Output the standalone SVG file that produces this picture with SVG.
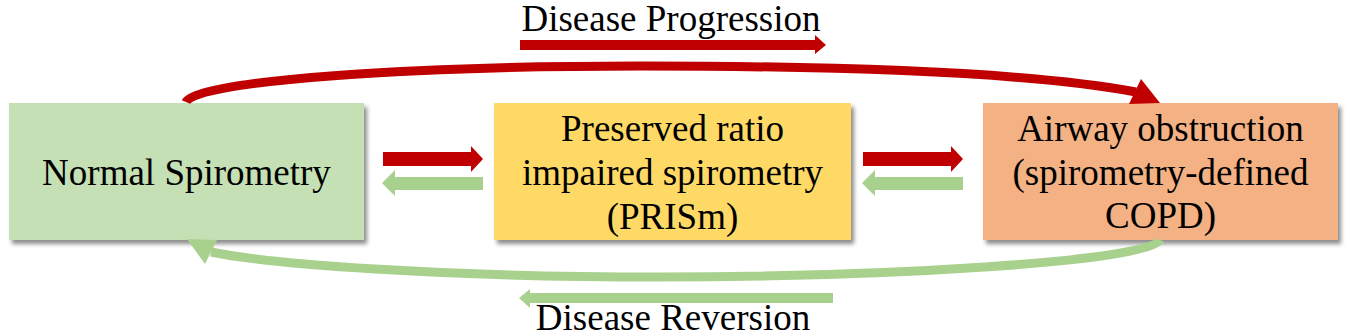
<svg xmlns="http://www.w3.org/2000/svg" width="1345" height="336" viewBox="0 0 1345 336">
<style>
.t{font-size:37px;fill:#000;text-anchor:middle}
.red{fill:#C00000}
.grn{fill:#A9D18E}
.cr{fill:none;stroke:#C00000;stroke-width:9}
.cg{fill:none;stroke:#A9D18E;stroke-width:9}
</style>
<defs>
<filter id="sh" x="-5%" y="-5%" width="115%" height="120%">
<feDropShadow dx="3" dy="4" stdDeviation="2" flood-color="#000" flood-opacity="0.45"/>
</filter>
</defs>
<g font-family="Liberation Serif, Times New Roman, DejaVu Serif, serif">
<g id="title-progression">
<text class="t" x="671" y="31" font-size="34.5">Disease Progression</text>
<polygon class="red" points="520,40 815,40 815,35 826,45 815,54 815,50 520,50"/>
</g>
<g id="title-reversion">
<text class="t" x="673" y="330" font-size="35">Disease Reversion</text>
<polygon class="grn" points="833,293 530,293 530,289 519,298 530,308 530,303 833,303"/>
</g>
<g id="node-normal">
<rect x="9" y="103" width="355" height="137" fill="#C5E0B4" filter="url(#sh)"/>
<text class="t" x="186.5" y="185">Normal Spirometry</text>
</g>
<g id="node-prism">
<rect x="494" y="103" width="357" height="137" fill="#FFD966" filter="url(#sh)"/>
<text class="t" x="672.5" y="141">Preserved ratio</text>
<text class="t" x="672.5" y="185">impaired spirometry</text>
<text class="t" x="672.5" y="229">(PRISm)</text>
</g>
<g id="node-copd">
<rect x="983" y="103" width="355" height="137" fill="#F4B183" filter="url(#sh)"/>
<text class="t" x="1160.5" y="141">Airway obstruction</text>
<text class="t" x="1160.5" y="185">(spirometry-defined</text>
<text class="t" x="1160.5" y="228">COPD)</text>
</g>
</g>
<g id="connectors">
<path class="cr" d="M186,102 C195,80 420,66 640,66 C860,66 1040,74 1136,92"/>
<polygon class="red" points="1141,79 1160,103 1129,104"/>
<path class="cg" d="M1160,240 C1150,262 880,277 660,277 C440,277 270,264 211,252"/>
<polygon class="grn" points="217,240 187,239 205,264"/>
<polygon class="red" points="383,152 471,152 471,146 483,159 471,172 471,166 383,166"/>
<polygon class="grn" points="483,177 395,177 395,170 382,183 395,196 395,190 483,190"/>
<polygon class="red" points="863,152 951,152 951,146 963,159 951,172 951,166 863,166"/>
<polygon class="grn" points="963,177 875,177 875,170 862,183 875,196 875,190 963,190"/>
</g>
</svg>
